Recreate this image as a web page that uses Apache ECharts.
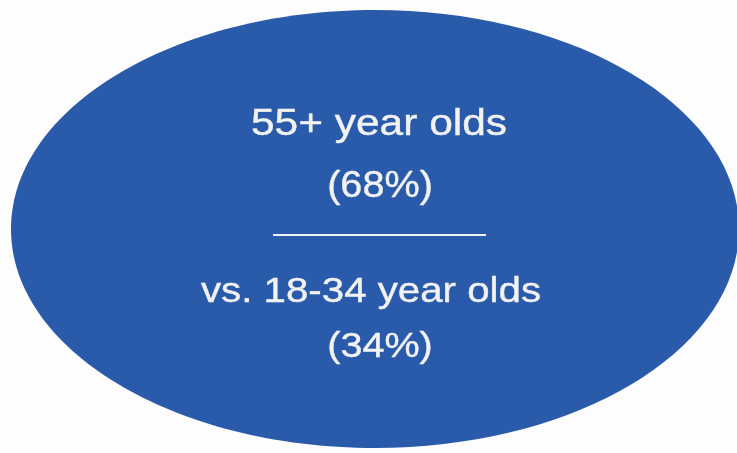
<!DOCTYPE html>
<html>
<head>
<meta charset="utf-8">
<script src="https://cdn.jsdelivr.net/npm/echarts@6/dist/echarts.min.js"></script>
<style>
html,body{margin:0;padding:0;background:#fdfdfd;}
#chart{width:737px;height:453px;}
</style>
</head>
<body>
<div id="chart"></div>
<script>
// Data
var groupLabels = ['55+ year olds', 'vs. 18-34 year olds'];
var groupValues = [68, 34];

var chart = echarts.init(document.getElementById('chart'), null, {renderer: 'canvas'});

var font = '"Liberation Sans", Arial, sans-serif';
var textColor = '#f2f2f2';

function txt(str, x, y, size, sx) {
  return {
    type: 'text',
    x: x, y: y,
    scaleX: sx,
    style: {
      text: str,
      fill: textColor,
      stroke: textColor,
      lineWidth: 0.4,
      font: 'normal ' + size + 'px ' + font,
      align: 'center',
      verticalAlign: 'middle'
    }
  };
}

chart.setOption({
  backgroundColor: '#fdfdfd',
  graphic: [
    {
      type: 'ellipse',
      shape: {cx: 375, cy: 229, rx: 364, ry: 219},
      style: {fill: '#2a5bab'}
    },
    txt(groupLabels[0], 379, 125, 36, 1.18),
    txt('(' + groupValues[0] + '%)', 380, 187, 36, 1.1),
    {
      type: 'line',
      shape: {x1: 273, y1: 235, x2: 486, y2: 235},
      style: {stroke: textColor, lineWidth: 2}
    },
    txt(groupLabels[1], 371, 292, 35, 1.15),
    txt('(' + groupValues[1] + '%)', 380, 347, 35, 1.13)
  ]
});
</script>
</body>
</html>
